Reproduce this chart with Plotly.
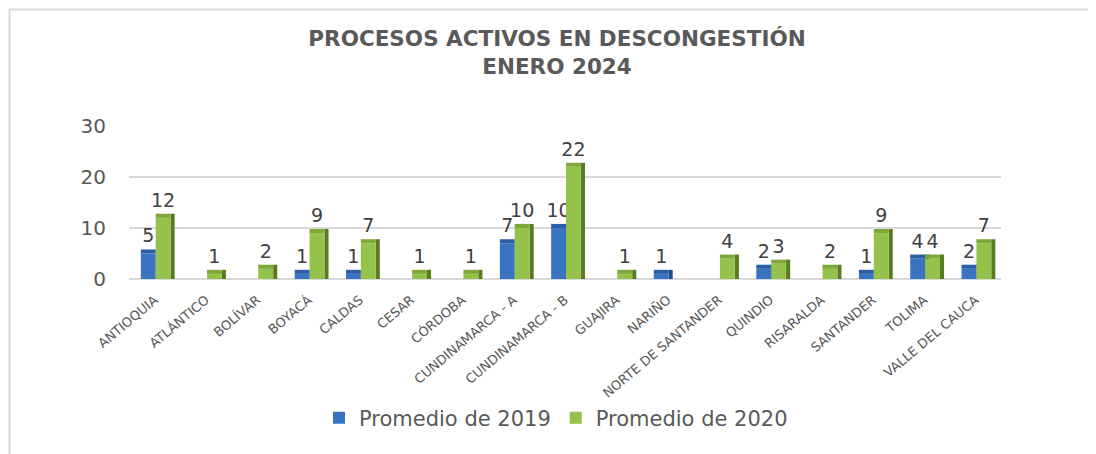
import plotly.graph_objects as go

categories = ["ANTIOQUIA", "ATLÁNTICO", "BOLÍVAR", "BOYACÁ", "CALDAS", "CESAR",
              "CÓRDOBA", "CUNDINAMARCA - A", "CUNDINAMARCA - B", "GUAJIRA", "NARIÑO",
              "NORTE DE SANTANDER", "QUINDIO", "RISARALDA", "SANTANDER", "TOLIMA",
              "VALLE DEL CAUCA"]
prom_2019 = [5, None, None, 1, 1, None, None, 7, 10, None, 1, None, 2, None, 1, 4, 2]
prom_2020 = [12, 1, 2, 9, 7, 1, 1, 10, 22, 1, None, 4, 3, 2, 9, 4, 7]
series_names = ["Promedio de 2019", "Promedio de 2020"]
y_ticks = [0, 10, 20, 30]

FONT = "DejaVu Sans, Verdana, sans-serif"
DEPTH = 0.8  # visual depth of the 3D cap, in axis units

styles = [
    dict(front="#3a73c2", top="#2c5ea6", side="#1f4a86", offset=-0.27),
    dict(front="#94c24a", top="#7ea93a", side="#5b7b23", offset=0.02),
]
W = 0.29
SIDE_W = 0.08

fig = go.Figure()
for name, vals, st in zip(series_names, [prom_2019, prom_2020], styles):
    # side face
    fig.add_trace(go.Bar(
        x=categories, y=[None if v is None else v + DEPTH for v in vals],
        offset=st["offset"] + W, width=SIDE_W,
        marker=dict(color=st["side"], line=dict(width=0)),
        showlegend=False, hoverinfo="skip"))
    # front face
    fig.add_trace(go.Bar(
        x=categories, y=vals, name=name,
        offset=st["offset"], width=W,
        marker=dict(color=st["front"], line=dict(width=0))))
    # top cap with value label
    fig.add_trace(go.Bar(
        x=categories, y=[None if v is None else DEPTH for v in vals],
        base=[0 if v is None else v for v in vals],
        offset=st["offset"], width=W,
        marker=dict(color=st["top"], line=dict(width=0)),
        text=[None if v is None else str(v) for v in vals],
        textposition="outside", cliponaxis=False, constraintext="none",
        textfont=dict(family=FONT, size=19, color="#404040"),
        showlegend=False, hoverinfo="skip"))

OFF = 8  # page body margin offset
L, T = 129 - OFF, 126 - OFF
PB = 279 - OFF            # pixel row of y=0 within the figure
PRt = 1001 - OFF          # right edge of plot within the figure
R = 1096 - PRt
B = 454 - PB
PH = PB - T
PW = PRt - L


def px_x(sx):
    return (sx - OFF - L) / PW


def px_y(sy):
    return (PB - (sy - OFF)) / PH


fig.update_layout(
    width=1096, height=454,
    margin=dict(l=L, r=R, t=T, b=B, autoexpand=False),
    barmode="overlay",
    paper_bgcolor="white", plot_bgcolor="white",
    font=dict(family=FONT, color="#595959"),
    title=dict(
        text="<b>PROCESOS ACTIVOS EN DESCONGESTIÓN<br>ENERO 2024</b>",
        x=549 / 1096, xref="container", xanchor="center",
        y=1 - 38 / 454, yref="container", yanchor="middle",
        font=dict(family=FONT, size=21.5, color="#595959")),
    legend=dict(
        orientation="h", x=px_x(556), xanchor="center",
        y=px_y(418), yanchor="middle",
        font=dict(family=FONT, size=21, color="#595959"),
        itemwidth=30, tracegroupgap=0),
    showlegend=True,
    shapes=[dict(type="rect", xref="paper", yref="paper",
                 x0=px_x(9.5), x1=px_x(1130),
                 y0=px_y(490), y1=px_y(9.5),
                 line=dict(color="#d9d9d9", width=2), layer="below")],
)
fig.update_xaxes(
    type="category", tickangle=-40, automargin=False,
    tickfont=dict(family=FONT, size=13, color="#595959"),
    showgrid=False, showline=False, ticks="", ticklabelstandoff=10)
fig.update_yaxes(
    range=[0, 30], tickvals=y_ticks, automargin=False,
    tickfont=dict(family=FONT, size=20, color="#595959"),
    showgrid=True, gridcolor="#d9d9d9", gridwidth=2,
    zeroline=True, zerolinecolor="#d9d9d9", zerolinewidth=2,
    showline=False, ticks="", ticklabelstandoff=22)

fig.write_html("out.html")
